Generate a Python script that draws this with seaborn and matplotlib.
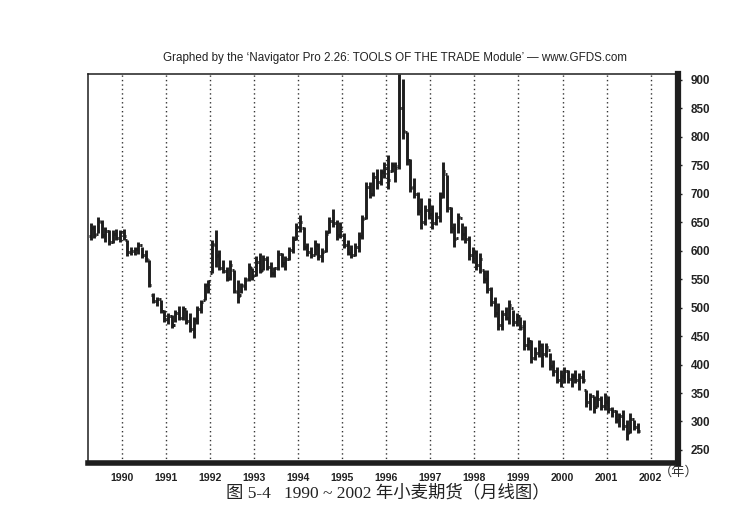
import numpy as np
import pandas as pd
import matplotlib
matplotlib.use("Agg")
import matplotlib.pyplot as plt
import seaborn as sns

# monthly wheat futures, Apr 1989 .. Sep 2001 (cents/bushel)
start_month = "1989-04"

high = [648, 645, 660, 654, 642, 636, 636, 639, 636,
        639, 619, 607, 607, 616, 607, 601, 584, 525, 519, 513, 496,
        490, 487, 496, 502, 502, 496, 490, 484, 502, 513, 543, 549,
        619, 636, 601, 584, 572, 584, 566, 549, 543, 554, 578, 569,
        590, 596, 593, 590, 581, 572, 601, 596, 590, 607, 625, 648,
        663, 642, 613, 607, 619, 613, 604, 636, 660, 674, 654, 651,
        631, 619, 610, 613, 633, 662, 721, 721, 738, 744, 744, 756,
        768, 756, 756, 910, 902, 808, 762, 727, 703, 692, 680, 692,
        680, 668, 703, 756, 733, 677, 648, 666, 648, 643, 625, 607,
        601, 596, 566, 566, 537, 519, 508, 496, 501, 513, 496, 490,
        484, 478, 449, 443, 431, 443, 437, 437, 420, 408, 396, 390,
        396, 390, 385, 390, 385, 390, 355, 350, 344, 355, 344, 350,
        344, 326, 320, 314, 320, 303, 314, 303, 297]

low = [619, 622, 631, 622, 616, 610, 613, 619, 616,
       619, 590, 592, 593, 595, 587, 581, 537, 508, 502, 490, 475,
       472, 464, 475, 478, 478, 472, 458, 446, 472, 490, 513, 525,
       560, 572, 566, 560, 546, 549, 525, 508, 525, 531, 546, 549,
       555, 560, 566, 566, 554, 554, 566, 572, 566, 584, 596, 619,
       633, 601, 590, 587, 592, 584, 581, 598, 631, 642, 619, 622,
       604, 592, 587, 590, 598, 621, 656, 692, 697, 709, 715, 727,
       709, 738, 721, 744, 797, 750, 703, 692, 662, 639, 645, 656,
       639, 645, 650, 692, 668, 631, 607, 631, 619, 613, 584, 578,
       566, 560, 543, 525, 502, 484, 461, 461, 478, 472, 467, 467,
       461, 426, 426, 402, 408, 414, 396, 414, 390, 379, 367, 361,
       367, 367, 361, 367, 355, 367, 326, 320, 314, 326, 320, 320,
       314, 308, 297, 291, 285, 268, 279, 285, 279]

open_ = [625, 640, 630, 650, 628, 635, 615, 630, 622,
         632, 618, 598, 600, 603, 610, 592, 584, 522, 512, 515, 494,
         480, 485, 470, 490, 482, 498, 476, 462, 478, 498, 514, 540,
         560, 610, 592, 570, 565, 552, 566, 528, 522, 538, 550, 570,
         558, 580, 566, 585, 572, 560, 570, 594, 578, 586, 602, 620,
         642, 640, 606, 598, 592, 610, 590, 600, 632, 652, 648, 628,
         628, 610, 596, 592, 606, 625, 658, 712, 700, 730, 720, 738,
         745, 740, 750, 748, 850, 808, 760, 712, 700, 670, 650, 672,
         665, 648, 660, 700, 735, 675, 640, 622, 658, 630, 620, 592,
         598, 575, 566, 550, 532, 510, 490, 470, 488, 482, 500, 475,
         485, 468, 435, 442, 412, 420, 435, 418, 425, 398, 388, 372,
         380, 388, 375, 380, 372, 378, 355, 335, 345, 325, 340, 328,
         335, 322, 318, 302, 310, 292, 282, 305, 290]

close = [640, 628, 652, 628, 635, 615, 630, 622, 632,
         625, 598, 600, 603, 610, 592, 585, 540, 512, 515, 494, 480,
         485, 470, 490, 482, 498, 476, 462, 478, 498, 510, 540, 546,
         612, 590, 570, 565, 550, 575, 530, 520, 540, 548, 572, 556,
         580, 565, 586, 572, 560, 570, 595, 578, 585, 602, 620, 642,
         650, 606, 598, 592, 612, 590, 598, 630, 652, 648, 628, 640,
         610, 596, 592, 606, 625, 655, 712, 700, 730, 720, 738, 745,
         725, 750, 745, 850, 810, 760, 710, 700, 670, 650, 672, 665,
         648, 660, 695, 740, 675, 640, 620, 660, 630, 620, 592, 600,
         575, 585, 550, 532, 510, 490, 470, 488, 482, 505, 475, 485,
         465, 435, 442, 412, 420, 435, 418, 430, 398, 388, 372, 380,
         388, 375, 380, 372, 378, 372, 335, 345, 325, 340, 328, 335,
         322, 318, 302, 310, 292, 280, 305, 290, 284]

years = list(range(1990, 2003))
year_labels = [str(y) for y in years]
y_ticks = list(range(250, 901, 50))

title = "Graphed by the \u2018Navigator Pro 2.26: TOOLS OF THE TRADE Module\u2019 \u2014 www.GFDS.com"
caption = "图 5-4   1990 ~ 2002 年小麦期货（月线图）"

df = pd.DataFrame({"date": pd.date_range(start_month, periods=len(high), freq="MS"),
                   "high": high, "low": low, "open": open_, "close": close})
df["t"] = df["date"].dt.year + (df["date"].dt.month - 0.5) / 12

sns.set_style("white")
plt.rcParams["font.family"] = ["Liberation Sans", "DejaVu Sans"]

fig = plt.figure(figsize=(7.55, 5.24), dpi=100)
ax = fig.add_axes([0.1166, 0.1164, 0.7814, 0.7424])

ink = "#1e1e1e"
lw = 2.1
hw = 0.045
ax.vlines(df["t"], df["low"], df["high"], color=ink, lw=lw)
ax.hlines(df["open"], df["t"] - hw, df["t"], color=ink, lw=lw)
ax.hlines(df["close"], df["t"], df["t"] + hw, color=ink, lw=lw)

for y in years:
    ax.axvline(y, color="#333333", lw=1.0, ls=(0, (1, 2.2)), zorder=0)

ax.set_xlim(1989.23, 2002.62)
ax.set_ylim(227, 910.5)

ax.set_xticks(years)
ax.set_xticklabels(year_labels, fontsize=7.6, fontweight="bold", color="#222222")
ax.tick_params(axis="x", length=0, pad=7)

ax.yaxis.tick_right()
ax.set_yticks(y_ticks)
ax.set_yticklabels([str(v) for v in y_ticks], fontsize=8.4, fontweight="bold", color="#222222")
ax.tick_params(axis="y", direction="out", length=3, width=1, pad=6, colors="#222222")

for side in ["left", "top"]:
    ax.spines[side].set_visible(True)
    ax.spines[side].set_color(ink)
    ax.spines[side].set_linewidth(1.1)
ax.spines["right"].set_color(ink)
ax.spines["right"].set_linewidth(4.5)
ax.spines["bottom"].set_color(ink)
ax.spines["bottom"].set_linewidth(4.0)

fig.text(0.523, 0.889, title, ha="center", va="center", fontsize=8.4, color="#222222")
fig.text(0.872, 0.099, "（年）", ha="left", va="center", fontsize=9.5,
         family=["Noto Sans CJK SC", "DejaVu Sans"], color="#333333")
fig.text(0.514, 0.059, caption, ha="center", va="center", fontsize=12.5,
         family=["Liberation Serif", "Noto Sans CJK SC"], color="#222222")

fig.savefig("out.png", dpi=100)
